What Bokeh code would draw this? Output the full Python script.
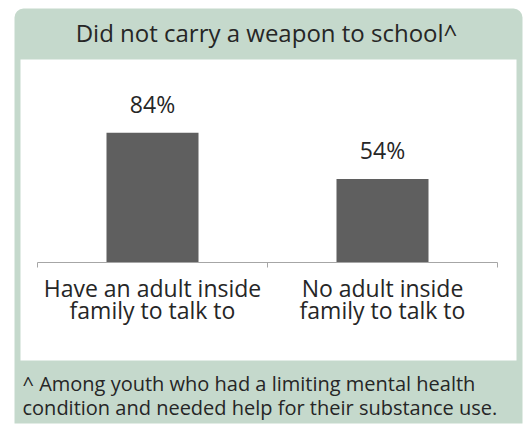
from bokeh.plotting import figure
from bokeh.models import Range1d, FixedTicker, BoxAnnotation, Label, LabelSet, ColumnDataSource
from bokeh.core.properties import value
from bokeh.embed import file_html
from bokeh.resources import INLINE

# ---- data ----
title_text = "Did not carry a weapon to school^"
categories = ["Have an adult inside\nfamily to talk to", "No adult inside\nfamily to talk to"]
values = [84, 54]
value_labels = ["84%", "54%"]
footnote_lines = ["^ Among youth who had a limiting mental health",
                  "condition and needed help for their substance use."]

# ---- style ----
GREEN = "#c5d9cc"
BAR = "#5f5f5f"
AXIS = "#a6a6a6"
TEXT = "#262626"
FONT = "Open Sans"

W, H = 524, 425
n = len(categories)
X0, UX = 37, 230.0      # pixel of first category edge, pixels per category
Y0, UY = 262, 1.545     # pixel of baseline, pixels per percent


def dx(px):
    return (px - X0) / UX


def dy(py):
    return (Y0 - py) / UY


p = figure(width=W, height=H, x_range=Range1d(dx(0), dx(W)), y_range=Range1d(dy(H), dy(0)),
           output_backend="svg", toolbar_location=None, tools="",
           min_border=0, min_border_left=0, min_border_right=0,
           min_border_top=0, min_border_bottom=0, y_axis_location=None)
p.title.visible = False
p.border_fill_color = "white"
p.background_fill_color = "white"
p.outline_line_color = None
p.xgrid.visible = False
p.ygrid.visible = False

# panels
green = BoxAnnotation(left=dx(14), right=dx(522), top=dy(8), bottom=dy(423),
                      fill_color=GREEN, fill_alpha=1, line_color=None, level="underlay",
                      border_radius=(9, 9, 0, 0))
white = BoxAnnotation(left=dx(20), right=dx(516), top=dy(59), bottom=dy(360),
                      fill_color="white", fill_alpha=1, line_color=None, level="underlay")
p.add_layout(green)
p.add_layout(white)

xs = [i + 0.5 for i in range(n)]
src = ColumnDataSource(dict(x=xs, top=values, label=value_labels))
p.vbar(x="x", top="top", width=0.4, source=src, fill_color=BAR, line_color=None)

p.add_layout(LabelSet(x="x", y="top", text="label", source=src, y_offset=20,
                      text_align="center", text_baseline="alphabetic",
                      text_font=value(FONT), text_font_size=value("23px"),
                      text_color=value(TEXT)))

ax = p.xaxis[0]
ax.fixed_location = 0
ax.bounds = (0, n)
ax.ticker = FixedTicker(ticks=xs, minor_ticks=[float(i) for i in range(n + 1)])
ax.major_label_overrides = {x: c for x, c in zip(xs, categories)}
ax.axis_line_color = AXIS
ax.major_tick_line_color = None
ax.major_tick_out = 0
ax.major_tick_in = 0
ax.minor_tick_line_color = AXIS
ax.minor_tick_out = 5
ax.minor_tick_in = 0
ax.major_label_standoff = 4
ax.major_label_text_font = FONT
ax.major_label_text_font_size = "23px"
ax.major_label_text_color = TEXT
ax.major_label_text_line_height = 0.70

p.add_layout(Label(x=dx(266), y=dy(32), text=title_text, text_align="center",
                   text_baseline="alphabetic", text_font=FONT, text_font_size="24px",
                   text_color=TEXT))
for line, base in zip(footnote_lines, [383, 407]):
    p.add_layout(Label(x=dx(22), y=dy(base), text=line, text_align="left",
                       text_baseline="alphabetic", text_font=FONT, text_font_size="20px",
                       text_color=TEXT))

open("out.html", "w").write(file_html(p, INLINE))
